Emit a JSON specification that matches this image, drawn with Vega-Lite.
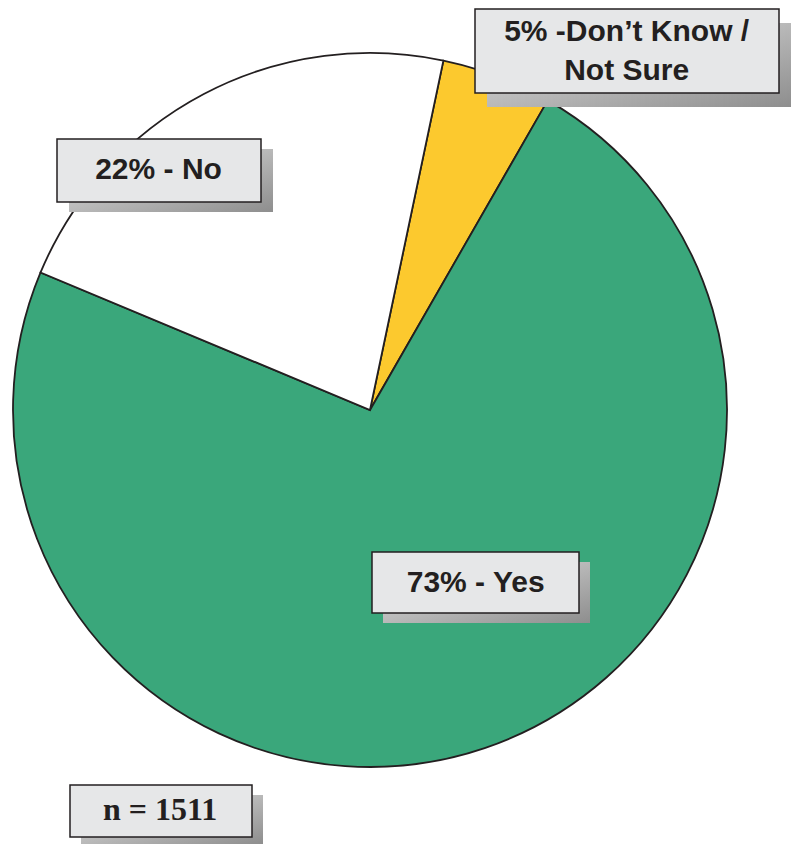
{
  "$schema": "https://vega.github.io/schema/vega-lite/v6.json",
  "width": 740,
  "height": 820,
  "autosize": {"type": "none"},
  "padding": {"left": 0, "top": 0, "right": 51, "bottom": 24},
  "background": "white",
  "config": {"view": {"stroke": null}},
  "resolve": {"scale": {"shape": "independent"}},
  "data": {
    "values": [
      {"cat": "Don't Know / Not Sure", "label": "5% -Don’t Know /\nNot Sure", "pct": 5, "rank": 1},
      {"cat": "Yes", "label": "73% - Yes", "pct": 73, "rank": 2},
      {"cat": "No", "label": "22% - No", "pct": 22, "rank": 3}
    ]
  },
  "layer": [
    {
      "mark": {"type": "arc", "outerRadius": 357, "stroke": "#231f20", "strokeWidth": 1.8},
      "encoding": {
        "theta": {"field": "pct", "type": "quantitative", "stack": true, "scale": {"domain": [0, 100], "range": [0.207, 6.4902]}},
        "order": {"field": "rank", "type": "quantitative"},
        "color": {
          "field": "cat", "type": "nominal",
          "scale": {"domain": ["Don't Know / Not Sure", "Yes", "No"], "range": ["#fcc92e", "#3aa77b", "#ffffff"]},
          "legend": null
        }
      }
    },
    {
      "mark": {
        "type": "point", "size": 4, "filled": true, "opacity": 1, "strokeWidth": 0,
        "fill": {"gradient": "linear", "x1": 0, "y1": 0, "x2": 1, "y2": 1, "stops": [{"offset": 0, "color": "#e4e4e4"}, {"offset": 1, "color": "#8e8e8e"}]}
      },
      "encoding": {
        "shape": {
          "field": "cat", "type": "nominal", "legend": null,
          "scale": {
            "domain": ["Don't Know / Not Sure", "Yes", "No"],
            "range": ["M117,-387H421V-303H117Z", "M13,152H220V213H13Z", "M-301,-261H-97V-198H-301Z"]
          }
        }
      }
    },
    {
      "mark": {"type": "point", "size": 4, "filled": true, "opacity": 1, "fill": "#e6e7e8", "stroke": "#231f20", "strokeWidth": 1.5},
      "encoding": {
        "shape": {
          "field": "cat", "type": "nominal", "legend": null,
          "scale": {
            "domain": ["Don't Know / Not Sure", "Yes", "No"],
            "range": ["M105,-401H409V-317H105Z", "M2,142H209V203H2Z", "M-313,-271H-109V-208H-313Z"]
          }
        }
      }
    },
    {
      "mark": {"type": "text", "radius": 192, "dx": 44, "dy": 0, "font": "Liberation Sans, Arial, sans-serif", "fontWeight": "bold", "fontSize": 30, "fill": "#231f20", "align": "center", "baseline": "alphabetic"},
      "encoding": {
        "theta": {"field": "pct", "type": "quantitative", "stack": true, "scale": {"domain": [0, 100], "range": [0.207, 6.4902]}},
        "order": {"field": "rank", "type": "quantitative"},
        "detail": {"field": "cat", "type": "nominal"},
        "text": {"condition": {"test": "datum.cat === 'Yes'", "field": "label", "type": "nominal"}, "value": ""}
      }
    },
    {
      "mark": {"type": "text", "radius": 261, "dx": -90, "dy": 0, "font": "Liberation Sans, Arial, sans-serif", "fontWeight": "bold", "fontSize": 30, "fill": "#231f20", "align": "center", "baseline": "alphabetic"},
      "encoding": {
        "theta": {"field": "pct", "type": "quantitative", "stack": true, "scale": {"domain": [0, 100], "range": [0.207, 6.4902]}},
        "order": {"field": "rank", "type": "quantitative"},
        "detail": {"field": "cat", "type": "nominal"},
        "text": {"condition": {"test": "datum.cat === 'No'", "field": "label", "type": "nominal"}, "value": ""}
      }
    },
    {
      "mark": {"type": "text", "radius": 395, "dx": 116, "dy": 0, "lineBreak": "\n", "lineHeight": 39, "font": "Liberation Sans, Arial, sans-serif", "fontWeight": "bold", "fontSize": 30, "fill": "#231f20", "align": "center", "baseline": "alphabetic"},
      "encoding": {
        "theta": {"field": "pct", "type": "quantitative", "stack": true, "scale": {"domain": [0, 100], "range": [0.207, 6.4902]}},
        "order": {"field": "rank", "type": "quantitative"},
        "detail": {"field": "cat", "type": "nominal"},
        "text": {"condition": {"test": "datum.cat === \"Don't Know / Not Sure\"", "field": "label", "type": "nominal"}, "value": ""}
      }
    },
    {
      "data": {"values": [{"note": "n = 1511"}]},
      "layer": [
        {
          "mark": {
            "type": "point", "size": 4, "filled": true, "opacity": 1, "strokeWidth": 0,
            "shape": "M-289,385H-107V434H-289Z",
            "fill": {"gradient": "linear", "x1": 0, "y1": 0, "x2": 1, "y2": 1, "stops": [{"offset": 0, "color": "#e4e4e4"}, {"offset": 1, "color": "#8e8e8e"}]}
          },
          "encoding": {}
        },
        {
          "mark": {"type": "point", "size": 4, "filled": true, "opacity": 1, "shape": "M-300,375H-118V427H-300Z", "fill": "#e6e7e8", "stroke": "#231f20", "strokeWidth": 1.5},
          "encoding": {}
        },
        {
          "mark": {"type": "text", "dx": -210, "dy": 410, "font": "Liberation Serif, Times New Roman, serif", "fontWeight": "bold", "fontSize": 32, "fill": "#231f20", "align": "center", "baseline": "alphabetic"},
          "encoding": {"text": {"field": "note", "type": "nominal"}}
        }
      ]
    }
  ]
}
